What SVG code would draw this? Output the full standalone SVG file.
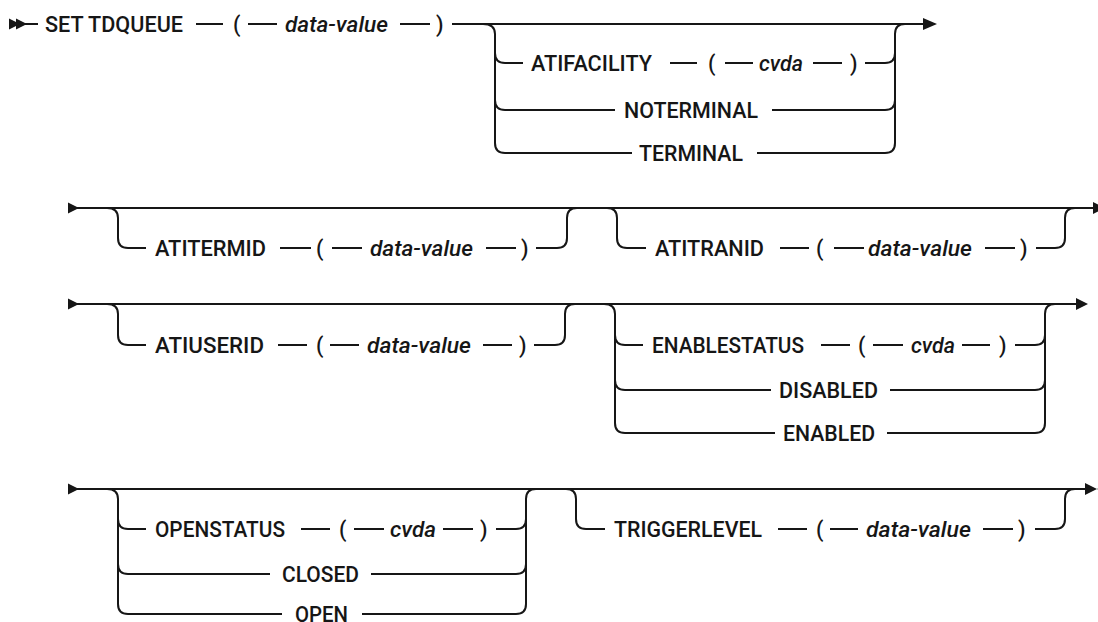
<svg xmlns="http://www.w3.org/2000/svg" xmlns:xlink="http://www.w3.org/1999/xlink" width="1098" height="622" viewBox="0 0 1098 622">
<style>
.t{font-family:Roboto,"Liberation Sans",sans-serif;font-size:21.5px;font-weight:500;fill:#161616}
.i{font-style:italic}
.trk{fill:none;stroke:#161616;stroke-width:2}
.ah{fill:#161616}
</style>
<defs>
<path id="ar" d="M0,-5.5 L11,0 L0,5.5 Z"/>
<path id="arl" d="M0,0 L12,-6 L12,6 Z"/>
</defs>
<rect width="1098" height="622" fill="#ffffff"/>
<g id="connectors">
<path class="trk" d="M23,24 H38 M196,24 H223 M248,24 H277 M400,24 H430 M452,24 H924"/>
<path class="trk" d="M483,24 Q495,24 495,34 V143 Q495,153 505,153 H632 M495,53 Q495,63 505,63 H523 M495,100 Q495,110 505,110 H615"/>
<path class="trk" d="M670,63 H697 M725,63 H753 M813,63 H842 M865,63 H885 Q895,63 895,53 M772,110 H885 Q895,110 895,100 M757,153 H885 Q895,153 895,143 V34 Q895,24 905,24"/>
<use href="#ar" class="ah" x="9" y="24"/>
<use href="#ar" class="ah" x="16" y="24"/>
<path class="ah" d="M923,18 L937,24 L923,30 Z"/>

<path class="trk" d="M72,208 H1094"/>
<use href="#ar" class="ah" x="68" y="208"/>
<path class="ah" d="M1093,202 L1105,208 L1093,214 Z"/>
<path class="trk" d="M107,208 Q118,208 118,218 V238 Q118,248 128,248 H146 M280,248 H311 M332,248 H362 M486,248 H516 M536,248 H557 Q567,248 567,238 V218 Q567,208 577,208"/>
<path class="trk" d="M607,208 Q617,208 617,218 V238 Q617,248 627,248 H646 M780,248 H809 M834,248 H864 M985,248 H1015 M1036,248 H1055 Q1065,248 1065,238 V218 Q1065,208 1075,208"/>

<path class="trk" d="M72,304 H1077"/>
<use href="#ar" class="ah" x="68" y="304"/>
<path class="ah" d="M1076,298 L1088,304 L1076,310 Z"/>
<path class="trk" d="M107,304 Q118,304 118,314 V335 Q118,345 128,345 H146 M278,345 H307 M330,345 H359 M483,345 H512 M534,345 H555 Q565,345 565,335 V314 Q565,304 575,304"/>
<path class="trk" d="M604,304 Q615,304 615,314 V423 Q615,433 625,433 H775 M615,335 Q615,345 625,345 H643 M615,380 Q615,390 625,390 H771"/>
<path class="trk" d="M821,345 H850 M873,345 H903 M962,345 H990 M1015,345 H1035 Q1045,345 1045,335 M890,390 H1035 Q1045,390 1045,380 M887,433 H1035 Q1045,433 1045,423 V314 Q1045,304 1055,304"/>

<path class="trk" d="M72,489 H1086"/>
<use href="#ar" class="ah" x="68" y="489"/>
<path class="ah" d="M1085,483 L1097,489 L1085,495 Z"/>
<use href="#arl" class="ah" x="1097" y="489"/>
<path class="trk" d="M107,489 Q118,489 118,499 V604 Q118,614 128,614 H282 M118,519 Q118,529 128,529 H146 M118,564 Q118,574 128,574 H270"/>
<path class="trk" d="M301,529 H330 M354,529 H384 M443,529 H473 M496,529 H516 Q526,529 526,519 M371,574 H516 Q526,574 526,564 M362,614 H516 Q526,614 526,604 V499 Q526,489 536,489"/>
<path class="trk" d="M566,489 Q576,489 576,499 V519 Q576,529 586,529 H605 M778,529 H807 M830,529 H858 M983,529 H1013 M1035,529 H1055 Q1065,529 1065,519 V499 Q1065,489 1075,489"/>
</g>

<g id="set-tdqueue">
<text class="t" x="45" y="31.5" textLength="138" lengthAdjust="spacingAndGlyphs">SET TDQUEUE</text>
<text class="t" x="233" y="31.5">(</text>
<text class="t i" x="285" y="31.5" textLength="103" lengthAdjust="spacingAndGlyphs">data-value</text>
<text class="t" x="436" y="31.5">)</text>
</g>
<g id="atifacility">
<text class="t" x="531" y="70.5" textLength="121" lengthAdjust="spacingAndGlyphs">ATIFACILITY</text>
<text class="t" x="708" y="70.5">(</text>
<text class="t i" x="759" y="70.5" textLength="44" lengthAdjust="spacingAndGlyphs">cvda</text>
<text class="t" x="850" y="70.5">)</text>
</g>
<g id="noterminal">
<text class="t" x="624" y="117.5" textLength="134" lengthAdjust="spacingAndGlyphs">NOTERMINAL</text>
</g>
<g id="terminal">
<text class="t" x="639" y="160.5" textLength="104" lengthAdjust="spacingAndGlyphs">TERMINAL</text>
</g>

<g id="atitermid">
<text class="t" x="155" y="255.5" textLength="111" lengthAdjust="spacingAndGlyphs">ATITERMID</text>
<text class="t" x="316" y="255.5">(</text>
<text class="t i" x="370" y="255.5" textLength="103" lengthAdjust="spacingAndGlyphs">data-value</text>
<text class="t" x="521" y="255.5">)</text>
</g>
<g id="atitranid">
<text class="t" x="655" y="255.5" textLength="109" lengthAdjust="spacingAndGlyphs">ATITRANID</text>
<text class="t" x="816" y="255.5">(</text>
<text class="t i" x="868" y="255.5" textLength="104" lengthAdjust="spacingAndGlyphs">data-value</text>
<text class="t" x="1020" y="255.5">)</text>
</g>

<g id="atiuserid">
<text class="t" x="155" y="352.5" textLength="109" lengthAdjust="spacingAndGlyphs">ATIUSERID</text>
<text class="t" x="316" y="352.5">(</text>
<text class="t i" x="367" y="352.5" textLength="104" lengthAdjust="spacingAndGlyphs">data-value</text>
<text class="t" x="519" y="352.5">)</text>
</g>
<g id="enablestatus">
<text class="t" x="652" y="352.5" textLength="152" lengthAdjust="spacingAndGlyphs">ENABLESTATUS</text>
<text class="t" x="858" y="352.5">(</text>
<text class="t i" x="911" y="352.5" textLength="44" lengthAdjust="spacingAndGlyphs">cvda</text>
<text class="t" x="999" y="352.5">)</text>
</g>
<g id="disabled">
<text class="t" x="779" y="397.5" textLength="99" lengthAdjust="spacingAndGlyphs">DISABLED</text>
</g>
<g id="enabled">
<text class="t" x="783" y="440.5" textLength="92" lengthAdjust="spacingAndGlyphs">ENABLED</text>
</g>

<g id="openstatus">
<text class="t" x="155" y="536.5" textLength="130" lengthAdjust="spacingAndGlyphs">OPENSTATUS</text>
<text class="t" x="339" y="536.5">(</text>
<text class="t i" x="390" y="536.5" textLength="46" lengthAdjust="spacingAndGlyphs">cvda</text>
<text class="t" x="480" y="536.5">)</text>
</g>
<g id="closed">
<text class="t" x="282" y="581.5" textLength="77" lengthAdjust="spacingAndGlyphs">CLOSED</text>
</g>
<g id="open">
<text class="t" x="295" y="621.5" textLength="53" lengthAdjust="spacingAndGlyphs">OPEN</text>
</g>
<g id="triggerlevel">
<text class="t" x="614" y="536.5" textLength="148" lengthAdjust="spacingAndGlyphs">TRIGGERLEVEL</text>
<text class="t" x="816" y="536.5">(</text>
<text class="t i" x="866" y="536.5" textLength="105" lengthAdjust="spacingAndGlyphs">data-value</text>
<text class="t" x="1018" y="536.5">)</text>
</g>
</svg>
